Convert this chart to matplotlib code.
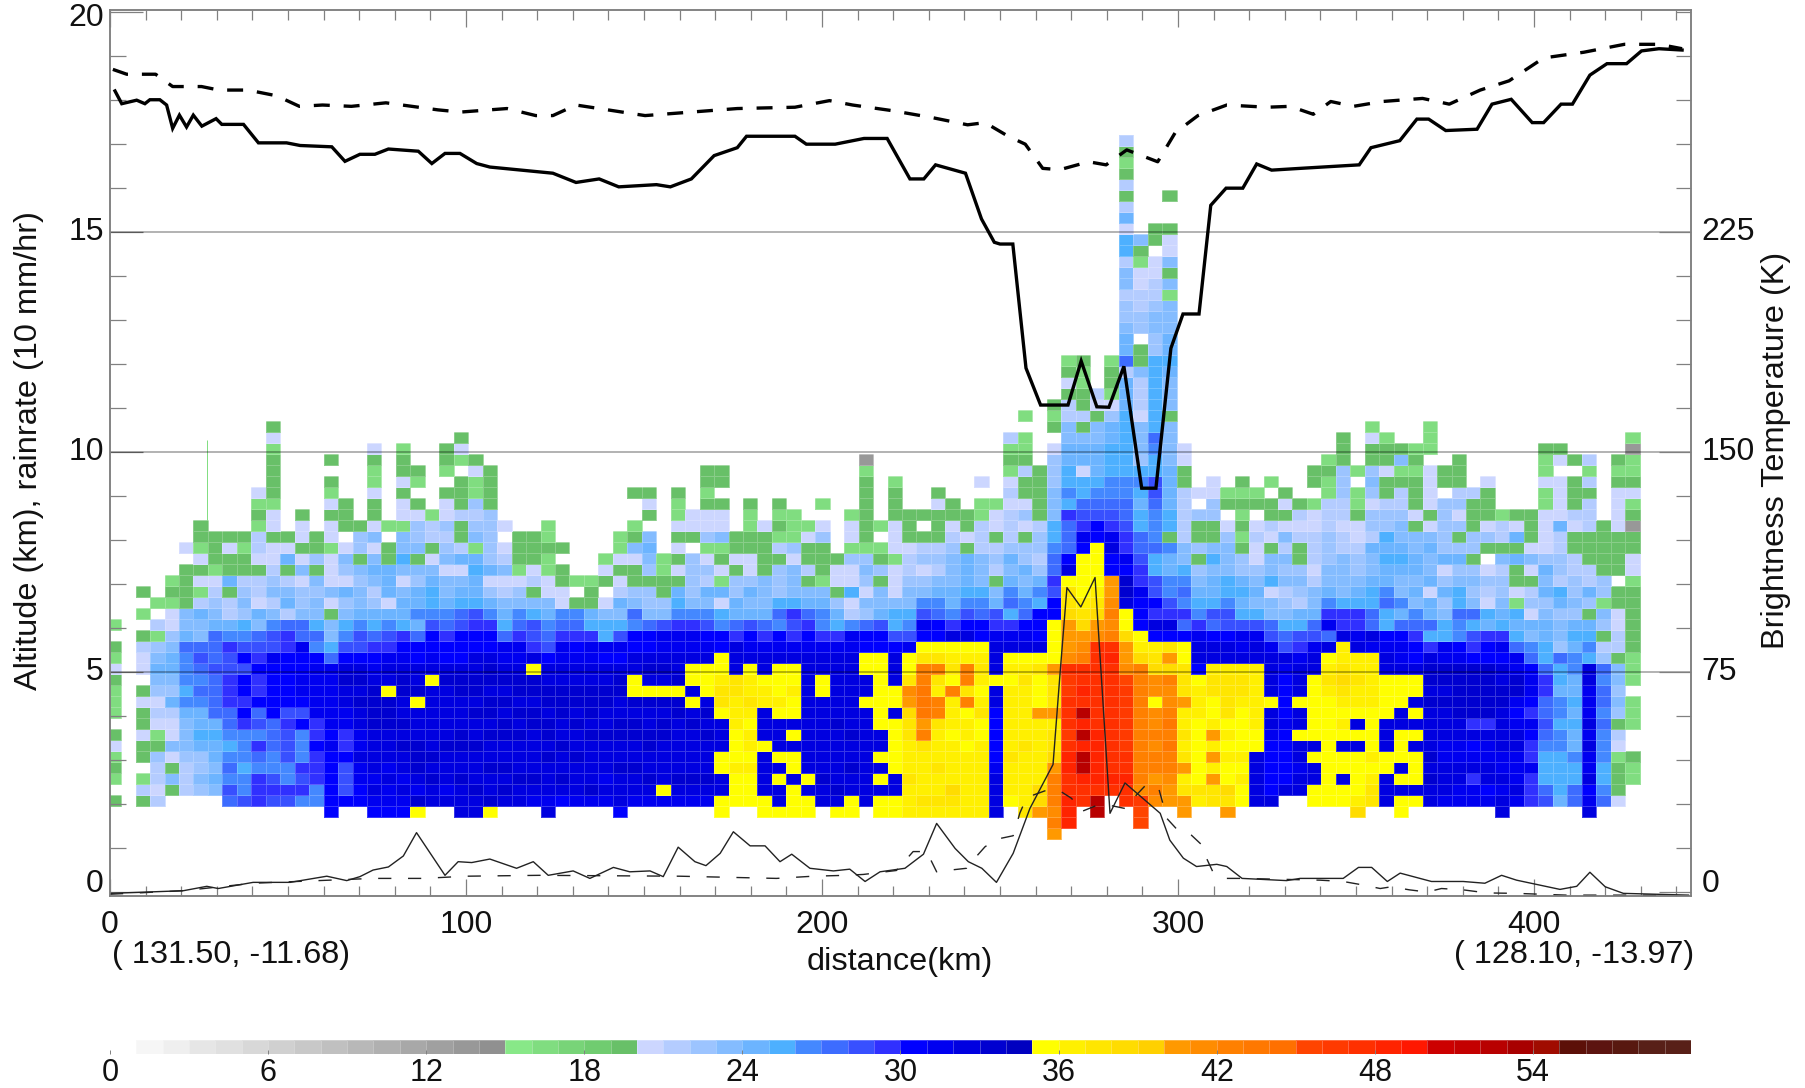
import numpy as np
import matplotlib
matplotlib.use("Agg")
import matplotlib.pyplot as plt
from matplotlib.colors import ListedColormap
from matplotlib.ticker import MultipleLocator, NullFormatter

plt.rcParams['font.family'] = ['Liberation Sans', 'DejaVu Sans']
plt.rcParams['lines.scale_dashes'] = False

# colour table, one colour per unit from 0 to 59
PALETTE = ['#ffffff','#f6f6f6','#efefef','#e6e6e6','#e0e0e0','#d8d8d8','#d0d0d0','#c8c8c8','#c0c0c0','#b8b8b8',
           '#b0b0b0','#a8a8a8','#a0a0a0','#989898','#909090',
           '#88e888','#80dd80','#78d478','#70cc70','#68c068',
           '#ccd6ff','#b4ccff','#9cc4ff','#84bcff','#6cb4ff',
           '#4db0ff','#4488ff','#3d6cff','#3850ff','#3030ff',
           '#0000ff','#0000f0','#0000e0','#0000d0','#0000c0',
           '#ffff00','#fff000','#ffe600','#ffdc00','#ffd000',
           '#ff9900','#ff8c00','#ff8000','#ff7800','#ff7000',
           '#ff4400','#ff3a00','#ff3000','#ff2400','#ff1800',
           '#cc0000','#c40000','#b80000','#a80000','#a00c00',
           '#5c1008','#5c1410','#581810','#582018','#582018']

# one letter per reflectivity value
LEVEL = {'#':13,'g':16,'G':19,'a':20,'b':21,'c':22,'d':23,'e':24,'f':25,'h':26,'i':27,'j':28,'k':29,
         'm':30,'n':31,'o':32,'p':33,'q':34,'s':35,'t':36,'u':37,'v':38,'w':40,'x':41,'y':42,'z':43,
         'B':45,'C':46,'D':47,'E':48,'F':49,'H':50,'I':52}

# reflectivity columns, bottom row first, blocks of five rows
COLUMNS = [
".G.gG gaG.g ggGag G.g", "",
".Gbg. GGaGG aG.aa bG.g. G", ".babb cGgab acded cgb.g", "..GdG adaab ecdee dcaag Gg",
"..bbb cddde hfhhh ieddG GGG.a", "..cdc cefee hihij iddeb gaGag GG", "..ded eefei iiiji iiedc bagGG G",
".ijhi hfhii kkkjj khebb GeGGa G", ".jhhf hhhkm kmmjm jhfcd cbGGg G", ".kkkh ikhji mkkmk jidea bbGab bgGga",
".jkjh hiiim mmmmn jjhdb dcbaa GaagG GGGga G", ".jkhh jjjkj mmmmm kkibe dbGea G",
".hkjk hhhmj mnnmm niidc cadaG aaG", ".hhkk kmkkn nnnnm hifdd cdGcG G",
"mmmmm mnmnn nnnni fddGa daaag aaGag G.G", ".mjjj mkknn oopom jhfdc eacda .GGG",
".mmnn onnoo popom jjhed dcdGc cG", "mnono ooopp pponm kifec bdeda daGGa ggGa",
"mnnon ooopp psoon kjhea eeeGG .g", "mnono opopo oppon mkfee dadfd dgaaG aGGg",
"spnop ppooo spoom miehe ecdGd ccaG. gG", ".oopo poooo ooson mmjhf fedaG bbg",
".onoo opooo oopom mkihe ddadc bcaaG .gGG", "ooopo oppoo oppom mmjif edaeb GGbGG G.gaG",
"oopoo opoop oppoo mmkjf eefeg dcbcg gaG", "spoop oopop poppo mmkhe caecc cccGG GG",
".opop ooppo popon nifed badba .a", ".oopo oopop oppon nkihd cagGG G",
".nopo ooopp oppso kjjfd GbaGG G", "onooo poppo ppoom jihed aaggG gg",
".mopo opoop ppoon nkiha aGG.G", ".nooo poopo ppoon mkihG .g", ".npoo oopop ppoon nkfeG Gg",
".nono oopoo ppoom nffda .Gag", "mooop ooppo oppom njfde baGag g",
".noop ooppo pssoo mmhid cGGad Gg..G", ".nopo oppoo psopo mmidc cGcde d.GaG",
".nsoo ooppo psopo nnjdc GGgg", ".nopo oooop pspoo nnkhf eGaGa GaggG",
".nopo ooopo sosso nnkhd cccc. Gaa", ".nopo oopop ossso nmjhd ebcag caaGg GG",
"ssoos sooos uutss mmhfa egaGg daaG. GG", ".ssst ssstt tuuoo okiee ccGaG G",
".ssst sttst uttso nmjed ecaaG GggG", "ssooo osooo ttsoo nkied ddGGG Ga",
"soos o sooos tssso nmhif cccGb gGgG", "sssos sosos stsso nkjkf dddac ggg",
"ssoso ooooo ooooo nmkie dGbGG ag", ".oopo ooooo ossoo nkhhe dgGGG ca.g",
"sopoo ooopo ooooo nkfec GaaG", "ssoop oopoo ooooo nnhba faacg aag",
".oooo ooooo sooss mmicd acdcg GGGGG Gg#", "ssoso sooss sssss mmjed dGcGg .g",
"ssoos sssso ssooo mjffd aaaga aaGGG g", "tttut ttuuv wxuss njhfd dcbba GGG",
"tuttt tuywz zzyyu smnjh dcacb G.G", "tuttu tttuy ytuyu smmih edbcb GGGaG",
"tuvtt ttstt tysut sokhe edddc baGG", "ttttt tstts yuyyt somjh feeeG aGG",
"ttttt ttssu tstut smmih fdddb bbgg. a", "oooon mmmmm oosoo onkje dGbcb Gaag",
".sttt utttt ttsts onkfi hedec bbbab agGgb", "utttt tuttt ttuts onmih edecc GacaG GbGgg .g",
"wvvtt ttttw sssus ommmf hecbc cbGGG GG", "xyyyw vuutw uuuws sssmm jkiih ffddd ccca. GgG",
"EEDDE EDCDD DCCDx wwwvu usomi iikfh ffeed dbbGa Gg", ".DDEI IEIEI DEDDy xwvut ssssm nkjif faeed GbGGg gG",
"IIDEE EEEDD DDDDD Dxwvu tssss mmjih feeed dGab", "..DED DDDDD DDDDE Dyxyx wwmmo nkjih hfffe ecagG Gg",
".DDED DCCCC CCBxw wvsso ppmnk kjiih hffff ffeee bieed ccbdd bffae bGbGg Gb",
"BCxyy yyyyy yyyyv tsmmm nkkji iffef hfcdd dabbb dGG.c cbbaa gGd",
".xywy yxyxx sxxvu tmokm jjffi hhhij jffhi fffff ffccd dcbba a.GG",
".wwxy yzyzy xxyvw umokj hheeh Gffee eeddd dGddd efeed ddgdG daaG. .G",
"wwutw ututt wuuus smikh ihfdd bbbbb GGaa", ".tuss sssst ttsmo onkhf edcGc GGc.a",
".uuwt wtwts suuto omijf eedfd GGcca a", "wuvss tstsu uuuto omjjh ffddd ca.Gg",
".ssts tssss tuuto nnjfe feccG gGgGg G", ".oooo osstt tttto onjfd edcaa ba.Gg",
".ommm mmnoo soooo njidd afddG abGG. g", "..omm mmmnm mmmno jifdc bdcdb daGaG",
"..oon oosoo sooon kjfeb cdcGG babG", ".ssoo sosss sssoo njied dbabb baag. GG",
".ssss sssss stuts oinkh eddcc cbbbg gGg", ".ssos sosts tuvut tokkf ddddb babbc ccGGG",
"vtsss sosos ttutt onkkf edccb aaGgg .g", ".uuts tssss ttttt noiif fedde bccac dcGGa g",
".ooos sooos sssoo nmffi heefe fccbG GaGGg", "ssoso sssoo ssson nmieh ddefe ddcbb GgdG",
".soss sosos ossom mkihd edeed dGaGG GgGg", ".oopo poooo poppo kfiee aedde daGaa aa.gg g",
".nooo nnooo poppn nffdc ecaec cccc. GG", ".nnoo nnoop ppppn mhhif fdcec Gcacb GGG",
".nnko nmokp ppppm kjfid cdcGc cGGGb", ".nmoo nnokp ppppm mkefa bca.G caGGG a",
"oonon noooo ppoom nkfed ccbdG bbg", ".nonn noonm nppnn ifefg aGGeG eaG",
".kkkn kkmnk mnnmi hdeac bGada GGG", ".jiff fhiji ikkif feedc edeca aaagg aggG",
".efff fhhfh heffi cddce fbccb beaaa a.aG", ".iiff heefe feehh efecd ccbbG GabGG G.G",
"onmon nonon nnoof hfeGc ebbGG GbbbG bgb", ".ihff hhhih iihic bGcdg ccGGG GG",
".aGGG gabGc dcddG bbaaG G.GGG Gaaaa GgG", "...gg G..gg g.ggg GGGGG GgaaG G#Gga Ggg#g",
]
# cells below the first row: column, row, letter
BELOW = [(65, -1, 'y'), (65, -2, 'w'), (66, -1, 'E'), (71, -1, 'B')]
ROW_BASE = 1.705   # km, bottom of row 0
ROW_H = 0.25       # km
COL_BASE = -0.93   # km, left of column 0
COL_W = 4.062      # km

# thick solid: brightness temperature (on the altitude scale)
tb_x = [1.4,3.3,7.5,9.8,11.2,14,15.9,17.6,19.5,21.5,23.4,25.8,29.8,31.4,37.5,41.7,49.6,53.4,62.3,66,70.2,74.4,78.2,86.6,90.4,94.1,98.3,103,106.7,
        124.4,130.9,137.4,142.9,153.5,157.4,163.3,169.7,176.2,178.8,192.4,195.6,203.7,211.8,218.3,224.7,228.6,231.9,240.3,244.8,248.4,250,253.6,
        257.3,261.4,269.1,272.8,277.2,280.6,284.8,289.8,293.8,298,301.4,305.9,309.2,313.5,318.2,322.1,326.3,334.3,
        350.9,354.2,362.3,367.1,370.4,375.2,384,388.2,393.6,399.5,402.7,407.6,410.8,415.7,420.5,426,430.2,435.1,441.6]
tb_y = [18.21,17.92,18,17.92,18.01,18.01,17.89,17.36,17.66,17.39,17.66,17.41,17.58,17.45,17.45,17.03,17.03,16.97,16.94,16.61,16.77,16.77,16.89,16.84,16.56,16.79,16.79,16.56,16.48,
        16.34,16.13,16.21,16.03,16.08,16.03,16.21,16.74,16.92,17.18,17.18,17,17,17.13,17.13,16.21,16.21,16.53,16.34,15.3,14.77,14.73,14.73,
        11.91,11.07,11.07,12.07,11.03,11.02,11.95,9.18,9.18,12.36,13.14,13.14,15.61,16,16,16.55,16.41,16.45,
        16.53,16.92,17.08,17.57,17.57,17.31,17.34,17.91,18.02,17.49,17.49,17.91,17.91,18.57,18.83,18.83,19.12,19.17,19.14]
# thick dashed
tb2_x = [0.8,4.7,12.8,17.6,25.7,30.6,38.7,46.8,53.2,59.7,67.8,77.5,92.1,98.5,111.5,119.6,124.4,130.9,137.4,150.3,163.3,176.2,192.4,202.1,208.6,219.9,231.2,240.9,245.8,252.3,257.1,262,266.8,274.9,279.8,285.6,294.3,299.2,305.6,313.7,325,331.5,338,342.9,349.3,357.4,368.7,376.2,384.9,393,402.7,414,425.4,435.1,441.6]
tb2_y = [18.7,18.59,18.59,18.31,18.31,18.23,18.23,18.1,17.86,17.89,17.86,17.94,17.78,17.73,17.81,17.65,17.65,17.89,17.81,17.65,17.73,17.81,17.84,17.99,17.89,17.76,17.6,17.44,17.49,17.18,17,16.45,16.42,16.6,16.53,16.87,16.6,17.26,17.65,17.89,17.84,17.86,17.68,17.97,17.86,17.97,18.04,17.91,18.23,18.44,18.96,19.09,19.27,19.27,19.17]
# thin solid: rain rate
rr_x = [0,20.6,27.2,30.4,40.2,50.6,60.9,66.5,70.2,73.9,78.2,82.4,86.1,94.1,97.8,101.6,106.7,114.2,118.9,123.1,130.1,134.8,141.4,146,151.7,155.4,159.6,164.3,167.4,171.4,175.1,179.8,184,188.2,191.5,196.6,203.2,207.8,212.1,216.3,223.3,228.5,232.2,237.4,241.1,244.9,249,253.7,258.4,264.9,266.8,268.8,272.7,276.7,280.9,285.1,295,297.7,301.5,305.2,310.9,313.7,318,330.5,334.3,346.4,350.7,354.4,358.8,362.4,371.2,380.1,386.2,390.9,395.1,407.3,412,415.7,420,425.1,443.4]
rr_y = [-0.03,0.03,0.13,0.08,0.22,0.22,0.36,0.26,0.35,0.5,0.57,0.82,1.35,0.38,0.69,0.67,0.75,0.54,0.69,0.38,0.48,0.31,0.56,0.46,0.48,0.35,1.02,0.69,0.6,0.88,1.37,1.05,1.05,0.69,0.86,0.54,0.48,0.52,0.24,0.46,0.54,0.86,1.56,0.99,0.69,0.54,0.22,0.88,1.9,2.9,4.9,6.92,6.48,7.15,1.79,2.48,1.79,1.18,0.77,0.58,0.63,0.58,0.31,0.26,0.31,0.31,0.56,0.56,0.24,0.43,0.24,0.24,0.2,0.38,0.27,0.06,0.13,0.45,0.12,-0.03,-0.07]
# thin dashed
rr2_x = [0,20.6,40.2,73.9,88,100,120.6,160,187.2,197.5,206.8,211.6,220.9,225.6,229.4,232.2,235,240.6,242.5,245.8,249,253.7,255.6,257.5,262.6,266.8,270.1,272.9,277.2,280.9,285.1,287.9,290.7,294.5,295.9,296.8,300.1,303.8,306.7,308,309.9,313.2,318,339.9,346.4,352,356.8,360,365,370,374,380.1,386.7,395,409,437]
rr2_y = [-0.05,0.03,0.2,0.31,0.31,0.36,0.38,0.36,0.31,0.36,0.38,0.4,0.49,0.92,0.92,0.46,0.49,0.54,0.73,1.03,1.2,1.28,1.8,2.15,2.3,2.3,2.13,1.83,1.97,1.97,1.9,2.17,2.41,2.38,1.97,1.68,1.39,1.29,1.07,0.77,0.44,0.31,0.31,0.27,0.24,0.16,0.08,0.12,0.05,0,0.08,0.05,-0.02,-0.03,-0.07,-0.07]

left_ticks = [0, 5, 10, 15, 20]
right_ticks = [0, 75, 150, 225]
x_ticks = [0, 100, 200, 300, 400]
cbar_ticks = [0, 6, 12, 18, 24, 30, 36, 42, 48, 54]
KM_MAX = 444.1
Y_MIN, Y_MAX = -0.09, 20.05
FS = 23
INK = '#111111'

W, H = 1806, 1088
fig = plt.figure(figsize=(W/100, H/100), dpi=100)
ax = fig.add_axes([110/W, 1-896/H, (1691-110)/W, (896-10)/H])

cmap = ListedColormap(PALETTE)
rows = [c.replace(' ', '') for c in COLUMNS]
nrow = max(len(r) for r in rows) + 2
grid = np.full((nrow, len(rows)), np.nan)
for k, s in enumerate(rows):
    for r, ch in enumerate(s):
        if ch != '.':
            grid[r + 2, k] = LEVEL[ch]
for k, r, ch in BELOW:
    grid[r + 2, k] = LEVEL[ch]
xe = COL_BASE + COL_W*np.arange(len(rows) + 1)
ye = ROW_BASE + ROW_H*(np.arange(nrow + 1) - 2)
ax.pcolormesh(xe, ye, np.ma.masked_invalid(grid), cmap=cmap, vmin=0, vmax=60,
              edgecolors=(1, 1, 1, 0.22), linewidth=0.5, zorder=1)
ax.vlines(27.2, 8.45, 10.27, color=PALETTE[16], lw=0.7, zorder=1)

for yy in [5, 10, 15]:
    ax.axhline(yy, color='k', alpha=0.38, lw=1.1, zorder=2)

ax.plot(tb_x, tb_y, color='k', lw=2.4, solid_joinstyle='miter', zorder=4)
ax.plot(tb2_x, tb2_y, color='k', lw=2.4, ls=(0, (11.5, 10)), zorder=4)
ax.plot(rr_x, rr_y, color='#222222', lw=1.0, zorder=4)
ax.plot(rr2_x, rr2_y, color='#222222', lw=1.0, ls=(0, (9.5, 12)), zorder=4)

ax.set_xlim(0, KM_MAX)
ax.set_ylim(Y_MIN, Y_MAX)
GR = '#808080'
for s in ax.spines.values():
    s.set_color(GR); s.set_linewidth(1.1)
ax.set_xticks(x_ticks)
ax.xaxis.set_minor_locator(MultipleLocator(10))
ax.set_yticks(left_ticks)
ax.yaxis.set_minor_locator(MultipleLocator(1))
ax.set_yticklabels([])
ax.tick_params(axis='x', which='major', direction='in', length=12, width=0.9, color=GR, top=True, pad=10, labelsize=FS, labelcolor=INK)
ax.tick_params(axis='x', which='minor', direction='in', length=7, width=0.9, color=GR, top=True)
ax.tick_params(axis='y', which='major', direction='in', length=24, width=0.9, color=GR)
ax.tick_params(axis='y', which='minor', direction='in', length=11.5, width=0.9, color=GR)

ax2 = ax.twinx()
ax2.set_ylim(Y_MIN*15, Y_MAX*15)
ax2.set_yticks(right_ticks)
ax2.set_yticklabels([])
ax2.yaxis.set_minor_locator(MultipleLocator(15))
ax2.tick_params(axis='y', which='major', direction='in', length=23, width=0.9, color=GR)
ax2.tick_params(axis='y', which='minor', direction='in', length=11, width=0.9, color=GR)
for s in ax2.spines.values():
    s.set_color(GR); s.set_linewidth(1.1)

# y tick numbers: the lowest and highest sit inside the axis range
def nudge(v):
    return {0: 6.0, 20: -4.0}.get(v, 0.0)

for v in left_ticks:
    ax.annotate(str(v), (0, v), xycoords=('axes fraction', 'data'),
                xytext=(-4.5, nudge(v)), textcoords='offset points',
                ha='right', va='center', fontsize=FS, color=INK, annotation_clip=False)
for v in right_ticks:
    ax2.annotate(str(v), (1, v), xycoords=('axes fraction', 'data'),
                 xytext=(7.5, nudge(v)), textcoords='offset points',
                 ha='left', va='center', fontsize=FS, color=INK, annotation_clip=False)

def px(x, y, s, **kw):
    fig.text(x/W, 1-y/H, s, color=INK, **kw)

px(29, 451, 'Altitude (km), rainrate (10 mm/hr)', rotation=90, ha='center', va='center', fontsize=FS+0.4)
px(1776, 450, 'Brightness Temperature (K)', rotation=90, ha='center', va='center', fontsize=FS+0.4)
px(900, 962, 'distance(km)', ha='center', va='center', fontsize=FS+0.4)
px(112, 955, '( 131.50, -11.68)', ha='left', va='center', fontsize=FS+0.4)
px(1694, 955, '( 128.10, -13.97)', ha='right', va='center', fontsize=FS+0.4)

cax = fig.add_axes([110/W, 1-1054/H, (1691-110)/W, 14/H])
cax.pcolormesh(np.arange(61), [0, 1], np.arange(60).reshape(1, -1), cmap=cmap, vmin=0, vmax=60,
               edgecolors=(1, 1, 1, 0.25), linewidth=0.4)
for s in cax.spines.values():
    s.set_visible(False)
cax.set_xlim(0, 60)
cax.set_yticks([])
cax.set_xticks(cbar_ticks)
cax.tick_params(axis='x', direction='in', length=3, width=0.7, color=GR, pad=3, labelsize=FS-1, labelcolor=INK)

fig.savefig('out.png', dpi=100)
